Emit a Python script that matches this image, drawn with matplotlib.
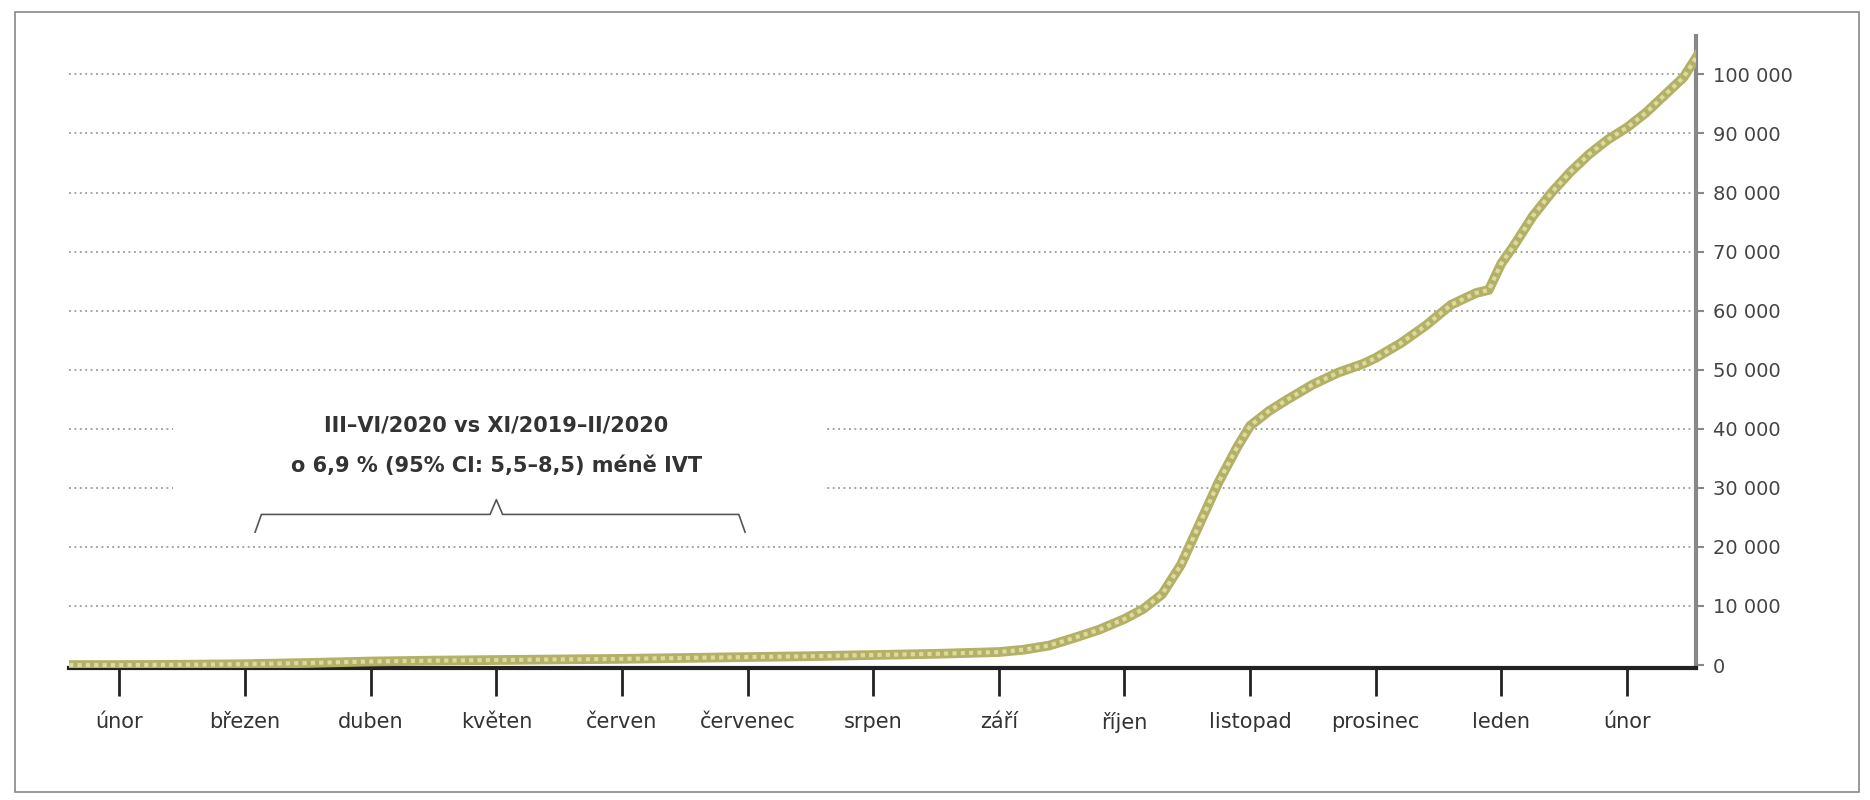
import matplotlib
matplotlib.use("Agg")
import matplotlib.pyplot as plt
from matplotlib.patches import Rectangle

months = ["únor","březen","duben","květen","červen","červenec","srpen","září","říjen","listopad","prosinec","leden","únor"]
t = [-0.4,0,0.5,1,1.5,2,2.5,3,3.5,4,4.5,5,5.5,6,6.5,7,7.2,7.4,7.6,7.8,8,8.15,8.3,8.45,8.6,8.75,8.9,9.0,9.15,9.3,9.5,9.7,9.9,10.0,10.2,10.4,10.6,10.8,10.9,11.0,11.1,11.25,11.4,11.55,11.7,11.85,12.0,12.15,12.3,12.45,12.6]
cases = [0,0,50,150,350,600,750,850,950,1050,1200,1350,1500,1700,1900,2200,2600,3300,4600,6000,7800,9500,12000,17000,24000,31000,37000,40500,43000,45000,47500,49500,51000,52000,54500,57500,61000,63000,63500,68000,71000,76000,80000,83500,86500,89000,91000,93500,96500,99500,104500]
yticks = [0,10000,20000,30000,40000,50000,60000,70000,80000,90000,100000]
ytick_labels = ["0","10 000","20 000","30 000","40 000","50 000","60 000","70 000","80 000","90 000","100 000"]
note_lines = ["III–VI/2020 vs XI/2019–II/2020", "o 6,9 % (95% CI: 5,5–8,5) méně IVT"]

fig = plt.figure(figsize=(18.7, 8), dpi=100)
ax = fig.add_axes([0.037, 0.165, 0.870, 0.790])
fig.patches.append(Rectangle((0.008, 0.01), 0.986, 0.975, transform=fig.transFigure,
                             fill=False, edgecolor="#888888", lw=1.2))

ax.set_xlim(-0.4, 12.55)
ax.set_ylim(-500, 106500)
for y in yticks[1:]:
    ax.axhline(y, color="#999999", lw=1.3, ls=(0, (1, 2)), zorder=1)

# white mask for annotation
ax.add_patch(Rectangle((0.43, 21500), 5.2, 24000, facecolor="white", edgecolor="none", zorder=2))
ax.text(3.0, 40500, note_lines[0], ha="center", va="center", fontsize=15, fontweight="bold", color="#333333", zorder=3)
ax.text(3.0, 33700, note_lines[1], ha="center", va="center", fontsize=15, fontweight="bold", color="#333333", zorder=3)
# brace
bx0, bx1, bm = 1.08, 4.98, 3.0
yb, yt = 22500, 25500
bc = "#555555"
ax.plot([bx0, bx0 + 0.05, bm - 0.05, bm, bm + 0.05, bx1 - 0.05, bx1],
        [yb, yt, yt, yt + 2500, yt, yt, yb], color=bc, lw=1.2, zorder=3)

ax.plot(t, cases, color="#b3b068", lw=7, solid_capstyle="round", zorder=4)
ax.plot(t, cases, color="#dcdb98", lw=3, ls=(0, (1, 1)), zorder=5)

ax.yaxis.tick_right()
ax.set_yticks(yticks)
ax.set_yticklabels(ytick_labels, fontsize=14, color="#444444")
ax.tick_params(axis="y", length=6, width=1.5, color="#888888", pad=6)
ax.set_xticks(range(len(months)))
ax.set_xticklabels(months, fontsize=15, color="#333333")
ax.tick_params(axis="x", length=20, width=2, color="#222222", pad=12, direction="out")
for s in ["top", "left"]:
    ax.spines[s].set_visible(False)
ax.spines["right"].set_color("#888888")
ax.spines["right"].set_linewidth(3)
ax.spines["bottom"].set_color("#222222")
ax.spines["bottom"].set_linewidth(3)
fig.savefig("out.png", dpi=100)
